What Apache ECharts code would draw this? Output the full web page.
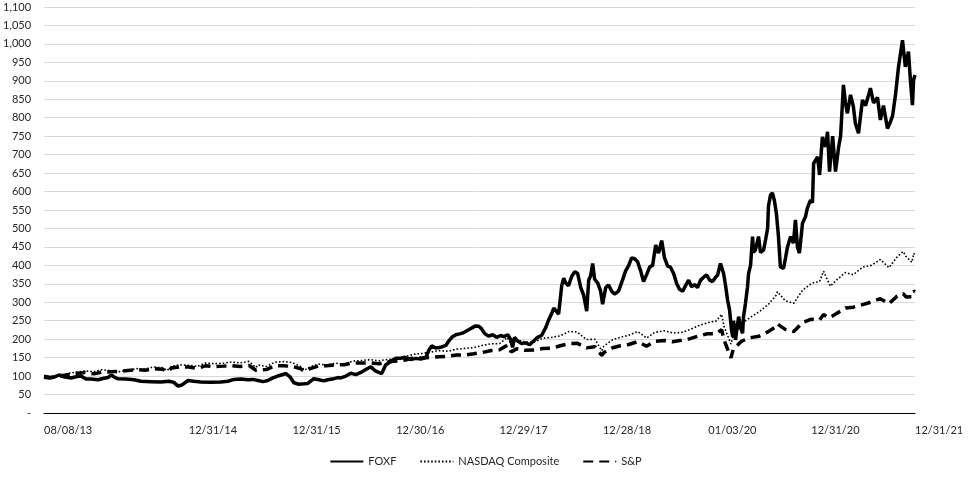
<!DOCTYPE html>
<html><head><meta charset="utf-8">
<script src="https://cdn.jsdelivr.net/npm/echarts@6/dist/echarts.min.js"></script>
<style>html,body{margin:0;padding:0;background:#fff}#c{width:971px;height:481px}</style>
</head><body><div id="c"></div>
<script>
const tickLabelDates = ['2013-08-08','2014-12-31','2015-12-31','2016-12-30','2017-12-29','2018-12-28','2020-01-03','2020-12-31','2021-12-31'];

const indexDates = [
'2013-08-08','2013-08-30','2013-09-30','2013-10-31','2013-11-29','2013-12-31',
'2014-01-31','2014-02-28','2014-03-31','2014-04-30','2014-05-30','2014-06-30','2014-07-31','2014-08-29','2014-09-30','2014-10-15','2014-10-31','2014-11-28','2014-12-31',
'2015-01-30','2015-02-27','2015-03-31','2015-04-30','2015-05-29','2015-06-30','2015-07-31','2015-08-24','2015-08-31','2015-09-30','2015-10-30','2015-11-30','2015-12-31',
'2016-01-29','2016-02-11','2016-02-29','2016-03-31','2016-04-29','2016-05-31','2016-06-30','2016-07-29','2016-08-31','2016-09-30','2016-10-31','2016-11-30','2016-12-30',
'2017-01-31','2017-02-28','2017-03-31','2017-04-28','2017-05-31','2017-06-30','2017-07-31','2017-08-31','2017-09-29','2017-10-31','2017-11-30','2017-12-29',
'2018-01-26','2018-01-31','2018-02-08','2018-02-28','2018-03-29','2018-04-30','2018-05-31','2018-06-29','2018-07-31','2018-08-31','2018-09-28','2018-10-31','2018-11-30','2018-12-24','2018-12-31',
'2019-01-31','2019-02-28','2019-03-29','2019-04-30','2019-05-31','2019-06-28','2019-07-31','2019-08-30','2019-09-30','2019-10-31','2019-11-29','2019-12-31',
'2020-01-31','2020-02-19','2020-02-28','2020-03-23','2020-03-31','2020-04-30','2020-05-29','2020-06-30','2020-07-31','2020-08-31','2020-09-02','2020-09-30','2020-10-30','2020-11-30','2020-12-31',
'2021-01-29','2021-02-12','2021-02-26','2021-03-08','2021-03-31','2021-04-30','2021-05-28','2021-06-30','2021-07-30','2021-08-31','2021-09-30','2021-10-29','2021-11-19','2021-11-30','2021-12-20','2021-12-27','2021-12-31'
];

const nasdaqValues = [
100,97.8,102.8,106.8,110.7,113.8,
111.9,117.4,114.4,112.2,115.6,120.1,119.1,124.8,122.5,114.9,126.2,130.6,129.1,
126.3,135.3,133.6,134.7,138.2,135.9,139.8,123.4,130.2,125.9,137.7,139.2,136.5,
125.8,116.3,124.2,132.7,130.1,134.9,132.0,140.7,142.1,144.8,141.4,145.1,146.7,
153.0,158.8,161.1,164.8,169.0,167.3,173.0,175.2,177.0,183.4,187.4,188.1,
204.5,202.0,184.7,198.2,192.5,192.6,202.8,204.7,209.1,221.0,219.3,199.1,199.8,168.8,180.8,
198.5,205.3,210.7,220.6,203.1,218.2,222.8,217.0,218.0,226.0,236.2,244.6,
249.4,267.6,233.5,187.0,209.9,242.3,258.7,274.2,292.9,320.9,328.6,304.4,297.4,332.5,351.3,
356.3,384.2,359.6,343.7,361.1,380.5,374.7,395.3,399.9,415.9,393.8,422.4,437.6,423.5,408.3,432.6,426.4
];

const spValues = [
100,96.3,99.4,104.0,107.1,109.8,
106.1,110.7,111.7,112.6,115.2,117.5,115.9,120.4,118.8,112.2,121.7,124.9,124.6,
120.9,127.7,125.8,127.0,128.5,126.0,128.7,115.9,120.8,117.8,127.8,128.0,126.0,
119.8,113.1,119.4,127.6,128.1,130.3,130.6,135.5,135.5,135.6,133.2,137.9,140.6,
143.4,148.9,149.1,150.8,152.6,153.7,157.0,157.2,160.4,164.3,169.3,171.2,
184.2,181.0,165.6,174.3,169.8,170.5,174.5,175.7,182.2,188.1,189.2,176.4,179.7,156.0,163.5,
176.7,182.3,185.7,193.4,181.0,193.9,196.5,193.3,197.0,201.4,208.4,214.8,
214.8,225.6,197.1,149.3,172.6,194.8,204.0,208.1,219.8,235.5,241.3,226.7,220.8,244.8,254.3,
251.9,267.1,259.0,259.6,270.2,284.8,286.8,293.8,300.7,309.9,295.8,316.7,323.4,314.3,314.9,330.3,328.5
];

const foxfDates = [
'2013-08-08','2013-08-26','2013-09-12','2013-09-30','2013-10-07','2013-10-17','2013-11-11','2013-12-02','2013-12-16',
'2014-01-03','2014-01-20','2014-02-14','2014-03-07','2014-03-21','2014-04-01','2014-04-15','2014-04-25','2014-05-24','2014-06-21','2014-07-15','2014-08-20','2014-09-24','2014-10-22','2014-11-08','2014-11-23','2014-12-07','2014-12-28',
'2015-01-18','2015-02-11','2015-03-19','2015-04-23','2015-05-17','2015-06-08','2015-07-02','2015-07-27','2015-08-13','2015-08-31','2015-09-18','2015-10-05','2015-10-23','2015-11-13','2015-12-08','2015-12-22',
'2016-01-05','2016-01-22','2016-02-09','2016-02-23','2016-03-15','2016-04-02','2016-04-19','2016-05-03','2016-05-25','2016-06-08','2016-06-18','2016-07-06','2016-07-23','2016-08-10','2016-08-28','2016-09-14','2016-10-02','2016-10-16','2016-10-30','2016-11-09','2016-11-23','2016-12-11','2016-12-29',
'2017-01-05','2017-01-15','2017-01-29','2017-02-19','2017-03-09','2017-03-27','2017-04-13','2017-04-24','2017-05-04','2017-05-18','2017-06-05','2017-06-23','2017-07-03','2017-07-14','2017-07-28','2017-08-14','2017-08-25','2017-09-08','2017-09-26','2017-10-06','2017-10-17','2017-10-27','2017-11-07','2017-11-21','2017-12-05','2017-12-19',
'2018-01-02','2018-01-13','2018-01-27','2018-02-06','2018-02-13','2018-02-20','2018-03-03','2018-03-17','2018-03-31','2018-04-14','2018-04-28','2018-05-12','2018-05-26','2018-06-10','2018-06-20','2018-07-01','2018-07-08','2018-07-18','2018-07-25','2018-08-01','2018-08-05','2018-08-12','2018-08-19','2018-08-29','2018-09-09','2018-09-20','2018-09-30','2018-10-11','2018-10-21','2018-11-01','2018-11-08','2018-11-15','2018-11-22','2018-11-29','2018-12-10','2018-12-20','2018-12-27',
'2019-01-07','2019-01-17','2019-01-28','2019-02-07','2019-02-21','2019-03-07','2019-03-18','2019-03-29','2019-04-08','2019-04-19','2019-04-29','2019-05-10','2019-05-20','2019-05-31','2019-06-11','2019-06-21','2019-07-02','2019-07-12','2019-07-23','2019-08-02','2019-08-13','2019-08-23','2019-09-03','2019-09-14','2019-09-24','2019-10-05','2019-10-15','2019-10-26','2019-11-05','2019-11-16','2019-11-26','2019-12-07','2019-12-18','2019-12-28',
'2020-01-08','2020-01-18','2020-01-29','2020-02-05','2020-02-15','2020-02-26','2020-03-04','2020-03-11','2020-03-18','2020-03-25','2020-03-29','2020-04-01','2020-04-08','2020-04-15','2020-04-19','2020-04-26','2020-05-03','2020-05-06','2020-05-13','2020-05-20','2020-05-24','2020-05-31','2020-06-07','2020-06-10','2020-06-17','2020-06-28','2020-07-05','2020-07-16','2020-07-23','2020-07-30','2020-08-02','2020-08-09','2020-08-16','2020-08-23','2020-08-30','2020-09-06','2020-09-13','2020-09-24','2020-10-01','2020-10-08','2020-10-19','2020-10-29','2020-11-05','2020-11-12','2020-11-19','2020-11-30','2020-12-10','2020-12-17','2020-12-28',
'2021-01-04','2021-01-08','2021-01-15','2021-01-22','2021-01-29','2021-02-08','2021-02-19','2021-02-26','2021-03-05','2021-03-16','2021-03-26','2021-04-06','2021-04-13','2021-04-23','2021-04-30','2021-05-07','2021-05-18','2021-05-28','2021-06-04','2021-06-15','2021-06-29','2021-07-10','2021-07-20','2021-07-27','2021-08-07','2021-08-21','2021-08-31','2021-09-11','2021-09-25','2021-10-06','2021-10-13','2021-10-23','2021-11-03','2021-11-17','2021-11-27','2021-12-08','2021-12-15','2021-12-22','2021-12-26','2021-12-31'
];

const foxfValues = [
97,95,97,103,106,98,95,99,100,
92,92,90,94,96,103,96,93,92,90,86,85,84,86,83,73,76,88,
86,84,83,84,86,91,92,90,91,88,85,88,95,101,107,98,
82,78,79,80,93,90,87,90,93,96,95,100,108,104,110,118,125,115,110,107,130,140,148,
152,148,151,145,148,146,150,170,182,176,178,183,195,205,212,215,218,224,232,236,235,228,215,208,212,205,
210,207,212,200,178,205,195,188,190,185,195,205,210,232,252,270,284,275,268,268,345,365,352,345,370,383,378,340,320,276,360,372,405,362,352,330,295,
340,347,330,322,330,360,385,400,420,418,410,385,356,375,396,400,455,433,467,420,398,395,378,350,335,330,345,360,342,348,340,360,368,374,
360,356,368,374,405,378,345,306,279,225,207,250,198,240,261,230,216,260,297,340,378,400,478,435,442,478,435,442,470,500,560,590,596,575,540,480,396,392,420,450,478,460,523,450,433,515,531,555,577,
570,676,685,694,645,748,721,762,654,750,654,720,750,889,840,812,862,830,785,758,848,833,860,880,840,855,794,833,771,790,805,860,938,1010,938,979,900,834,902,916
];

function ts(s){const p=s.split('-');return Date.UTC(+p[0],+p[1]-1,+p[2]);}
function pad(n){return (n<10?'0':'')+n;}
function fmtDate(v){const d=new Date(v);return pad(d.getUTCMonth()+1)+'/'+pad(d.getUTCDate())+'/'+pad(d.getUTCFullYear()%100);}
function pairs(dates, vals){return dates.map((d,i)=>[ts(d), vals[i]]);}

const font = 'Lato, "Open Sans", sans-serif';
const chart = echarts.init(document.getElementById('c'), null, {renderer:'canvas'});
chart.setOption({
  animation:false,
  backgroundColor:'#fff',
  grid:{left:43,right:56,top:7,bottom:68,containLabel:false},
  xAxis:{
    type:'value',
    min:ts(tickLabelDates[0]),
    max:ts(tickLabelDates[tickLabelDates.length-1]),
    axisLine:{show:true,lineStyle:{color:'#000',width:1.2}},
    axisTick:{show:false},
    splitLine:{show:false},
    axisLabel:{
      customValues:tickLabelDates.map(ts),
      formatter:v=>fmtDate(v),
      align:'left',
      margin:12,
      fontSize:11,
      fontFamily:font,
      color:'#262626',
      hideOverlap:false
    }
  },
  yAxis:{
    type:'value',
    min:0,max:1100,interval:50,
    axisLine:{show:false},
    axisTick:{show:false},
    splitLine:{show:true,lineStyle:{color:'#d9d9d9',width:1}},
    axisLabel:{
      formatter:v=>v===0?'-':v.toLocaleString('en-US'),
      margin:13,
      fontSize:11,
      fontFamily:font,
      color:'#262626'
    }
  },
  legend:{
    bottom:9,
    left:'center',
    itemWidth:33,
    itemHeight:14,
    itemGap:23,
    itemStyle:{opacity:0},
    textStyle:{fontSize:11,fontFamily:font,color:'#262626'},
    data:['FOXF','NASDAQ Composite','S&P']
  },
  series:[
    {name:'FOXF',type:'line',symbol:'none',data:pairs(foxfDates,foxfValues),
     lineStyle:{color:'#000',width:3.5},itemStyle:{color:'#000'},z:4},
    {name:'NASDAQ Composite',type:'line',symbol:'none',data:pairs(indexDates,nasdaqValues),
     lineStyle:{color:'#000',width:1.6,type:[1.6,2]},itemStyle:{color:'#000'},z:3},
    {name:'S&P',type:'line',symbol:'none',data:pairs(indexDates,spValues),
     lineStyle:{color:'#000',width:3.5,type:[10,6]},itemStyle:{color:'#000'},z:2}
  ]
});
</script></body></html>
